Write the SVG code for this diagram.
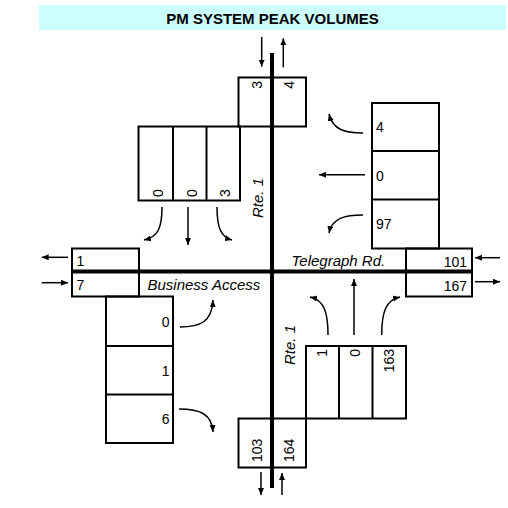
<svg xmlns="http://www.w3.org/2000/svg" width="508" height="508" viewBox="0 0 508 508">
<style>
.box{fill:none;stroke:#000;stroke-width:2}
.road{stroke:#000;stroke-width:4;fill:none}
.arr{stroke:#000;stroke-width:1.5;fill:none;marker-end:url(#ah)}
.num{font-family:"Liberation Sans",Arial,sans-serif;font-size:14px;fill:#000}
.lbl{font-family:"Liberation Sans",Arial,sans-serif;font-size:15px;font-style:italic;fill:#000}
.title{font-family:"Liberation Sans",Arial,sans-serif;font-size:15px;font-weight:bold;fill:#000}
</style>
<defs>
<marker id="ah" markerUnits="userSpaceOnUse" markerWidth="8" markerHeight="7" refX="7" refY="3" orient="auto">
<path d="M0,0 L7,3 L0,6 z" fill="#000"/>
</marker>
</defs>
<rect width="508" height="508" fill="#fff"/>
<g id="title">
<rect x="39" y="5" width="467" height="25" fill="#CCFFFF"/>
<text class="title" x="272.5" y="23.5" text-anchor="middle">PM SYSTEM PEAK VOLUMES</text>
</g>
<g id="roads">
<line class="road" x1="272" y1="53" x2="272" y2="488"/>
<line class="road" x1="72" y1="271.5" x2="472" y2="271.5"/>
<text class="lbl" x="291.5" y="266">Telegraph Rd.</text>
<text class="lbl" x="147.5" y="290">Business Access</text>
<text class="lbl" transform="translate(263,218) rotate(-90)">Rte. 1</text>
<text class="lbl" transform="translate(295,365) rotate(-90)">Rte. 1</text>
</g>
<g id="north-exit">
<rect class="box" x="238.5" y="77.5" width="67.5" height="49"/>
<text class="num" text-anchor="end" transform="translate(262,81) rotate(-90)">3</text>
<text class="num" text-anchor="end" transform="translate(294,81) rotate(-90)">4</text>
</g>
<g id="north-approach">
<rect class="box" x="138.5" y="126.5" width="101.5" height="74"/>
<line class="box" x1="173" y1="126.5" x2="173" y2="200.5"/>
<line class="box" x1="206.5" y1="126.5" x2="206.5" y2="200.5"/>
<text class="num" transform="translate(162.75,197) rotate(-90)">0</text>
<text class="num" transform="translate(196.75,197) rotate(-90)">0</text>
<text class="num" transform="translate(230.25,197) rotate(-90)">3</text>
</g>
<g id="east-approach">
<rect class="box" x="372" y="103" width="67" height="145.5"/>
<line class="box" x1="372" y1="151" x2="439" y2="151"/>
<line class="box" x1="372" y1="199.5" x2="439" y2="199.5"/>
<text class="num" x="376" y="132">4</text>
<text class="num" x="376" y="180.5">0</text>
<text class="num" x="376" y="229">97</text>
</g>
<g id="east-exit">
<rect class="box" x="406" y="248.5" width="66" height="48"/>
<text class="num" x="467" y="266.5" text-anchor="end">101</text>
<text class="num" x="467" y="290.5" text-anchor="end">167</text>
</g>
<g id="west-exit">
<rect class="box" x="72" y="248.5" width="67" height="48"/>
<text class="num" x="76.5" y="266">1</text>
<text class="num" x="76.5" y="290">7</text>
</g>
<g id="west-approach">
<rect class="box" x="106" y="296.5" width="67" height="146.5"/>
<line class="box" x1="106" y1="346" x2="173" y2="346"/>
<line class="box" x1="106" y1="394.5" x2="173" y2="394.5"/>
<text class="num" x="169.5" y="326.5" text-anchor="end">0</text>
<text class="num" x="169.5" y="375.5" text-anchor="end">1</text>
<text class="num" x="169.5" y="424" text-anchor="end">6</text>
</g>
<g id="south-approach">
<rect class="box" x="306" y="346" width="100" height="72.5"/>
<line class="box" x1="339" y1="346" x2="339" y2="418.5"/>
<line class="box" x1="372.5" y1="346" x2="372.5" y2="418.5"/>
<text class="num" text-anchor="end" transform="translate(327,349) rotate(-90)">1</text>
<text class="num" text-anchor="end" transform="translate(360.25,349) rotate(-90)">0</text>
<text class="num" text-anchor="end" transform="translate(393.5,349) rotate(-90)">163</text>
</g>
<g id="south-exit">
<rect class="box" x="238.5" y="418.5" width="67.5" height="49"/>
<text class="num" transform="translate(261.5,462) rotate(-90)">103</text>
<text class="num" transform="translate(293.5,462) rotate(-90)">164</text>
</g>
<g id="connectors">
<line class="arr" x1="261.7" y1="37" x2="261.7" y2="66.7"/>
<line class="arr" x1="283.3" y1="67.3" x2="283.3" y2="38.3"/>
<line class="arr" x1="261" y1="472" x2="261" y2="495"/>
<line class="arr" x1="282" y1="495" x2="282" y2="473"/>
<line class="arr" x1="68" y1="257.3" x2="41.7" y2="257.3"/>
<line class="arr" x1="41.7" y1="282.7" x2="68" y2="282.7"/>
<line class="arr" x1="500" y1="257.7" x2="475" y2="257.7"/>
<line class="arr" x1="475" y1="281.7" x2="500" y2="281.7"/>
<path class="arr" d="M162,207 C162,228 158,237 144,240"/>
<line class="arr" x1="188" y1="207" x2="188" y2="245"/>
<path class="arr" d="M217,207 C217,228 221,237 232,240"/>
<path class="arr" d="M363,133 C345,133 333,130 329,114"/>
<line class="arr" x1="365" y1="174.7" x2="319" y2="174.7"/>
<path class="arr" d="M363,215 C345,215 332,218 329,233"/>
<path class="arr" d="M180,327 C200,327 212,322 213,300"/>
<path class="arr" d="M179,409 C200,409 212,414 213,432"/>
<path class="arr" d="M328,335 C328,312 324,300 310,297"/>
<line class="arr" x1="354" y1="335" x2="354" y2="279"/>
<path class="arr" d="M381.7,335 C381.7,312 386,300 400,297"/>
</g>
</svg>
